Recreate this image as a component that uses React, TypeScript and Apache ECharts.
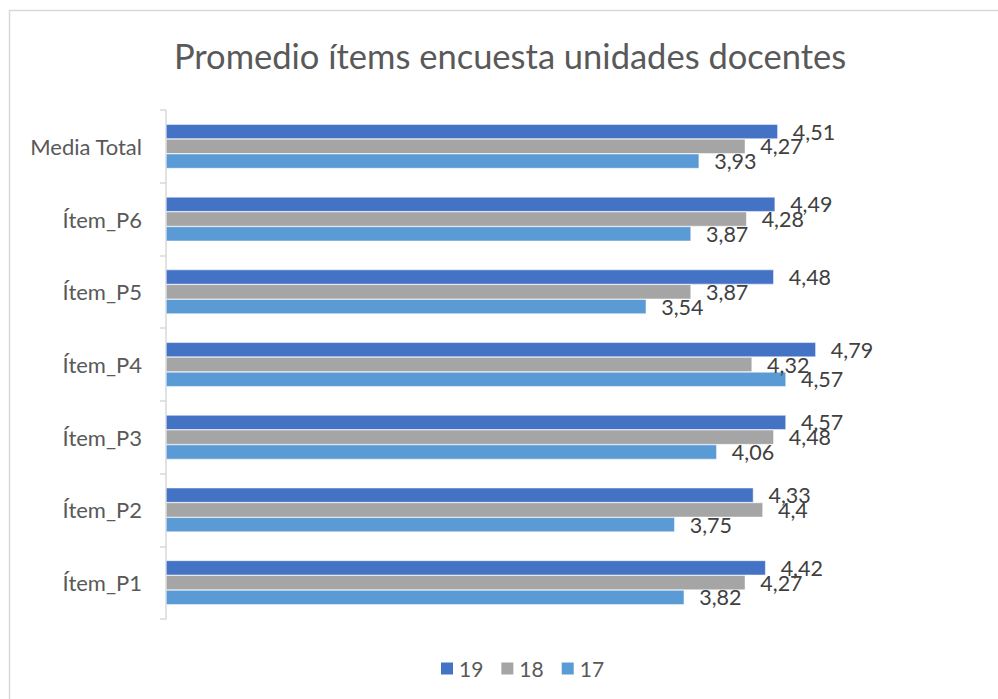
import React, { useEffect, useRef } from "react";
import * as echarts from "echarts";

const categories = ["Ítem_P1", "Ítem_P2", "Ítem_P3", "Ítem_P4", "Ítem_P5", "Ítem_P6", "Media Total"];
const seriesNames = ["19", "18", "17"];
const values19 = [4.42, 4.33, 4.57, 4.79, 4.48, 4.49, 4.51];
const values18 = [4.27, 4.4, 4.48, 4.32, 3.87, 4.28, 4.27];
const values17 = [3.82, 3.75, 4.06, 4.57, 3.54, 3.87, 3.93];
const colors = ["#4472C4", "#A5A5A5", "#5B9BD5"];
const titleText = "Promedio ítems encuesta unidades docentes";
const FONT = "Lato, 'Open Sans', sans-serif";

export default function App() {
  const ref = useRef<HTMLDivElement>(null);
  useEffect(() => {
    if (!ref.current) return;
    const chart = echarts.init(ref.current, undefined, { renderer: "svg" });
    const all = [values19, values18, values17];
    chart.setOption({
      animation: false,
      backgroundColor: "#ffffff",
      textStyle: { fontFamily: FONT },
      graphic: [
        {
          type: "rect",
          shape: { x: 9.5, y: 10.5, width: 1200, height: 900 },
          style: { fill: "none", stroke: "#D9D9D9", lineWidth: 1.5 },
          silent: true,
          z: -1,
        },
        {
          type: "text",
          x: 510,
          y: 55,
          style: {
            text: titleText,
            textAlign: "center",
            textVerticalAlign: "middle",
            fontFamily: FONT,
            fontSize: 34.5,
            fill: "#595959",
          },
          silent: true,
        },
      ],
      legend: {
        data: seriesNames,
        left: 434,
        top: 653,
        icon: "rect",
        itemWidth: 14,
        itemHeight: 14,
        itemGap: 16,
        textStyle: { fontFamily: FONT, fontSize: 21, color: "#595959" },
      },
      grid: { left: 166, right: 18, top: 110, bottom: 80, containLabel: false },
      xAxis: {
        type: "value",
        min: 0,
        max: 6,
        show: false,
      },
      yAxis: {
        type: "category",
        data: categories,
        axisLine: { show: true, lineStyle: { color: "#D9D9D9", width: 1.5 } },
        axisTick: { show: true, length: 6, lineStyle: { color: "#D9D9D9", width: 1.5 } },
        axisLabel: { fontFamily: FONT, fontSize: 22, color: "#595959", margin: 24, padding: [0, 0, 3, 0] },
        splitLine: { show: false },
      },
      series: seriesNames.map((name, i) => ({
        name,
        type: "bar",
        data: all[i],
        barGap: "0%",
        barCategoryGap: "39%",
        itemStyle: { color: colors[i], borderColor: "#ffffff", borderWidth: 0.5 },
        label: {
          show: true,
          position: "right",
          distance: 15,
          fontFamily: FONT,
          fontSize: 21.5,
          color: "#404040",
          formatter: (p: any) => String(p.value).replace(".", ","),
        },
      })),
    });
    return () => chart.dispose();
  }, []);
  return <div ref={ref} style={{ position: "fixed", left: 0, top: 0, width: 998, height: 699 }} />;
}
